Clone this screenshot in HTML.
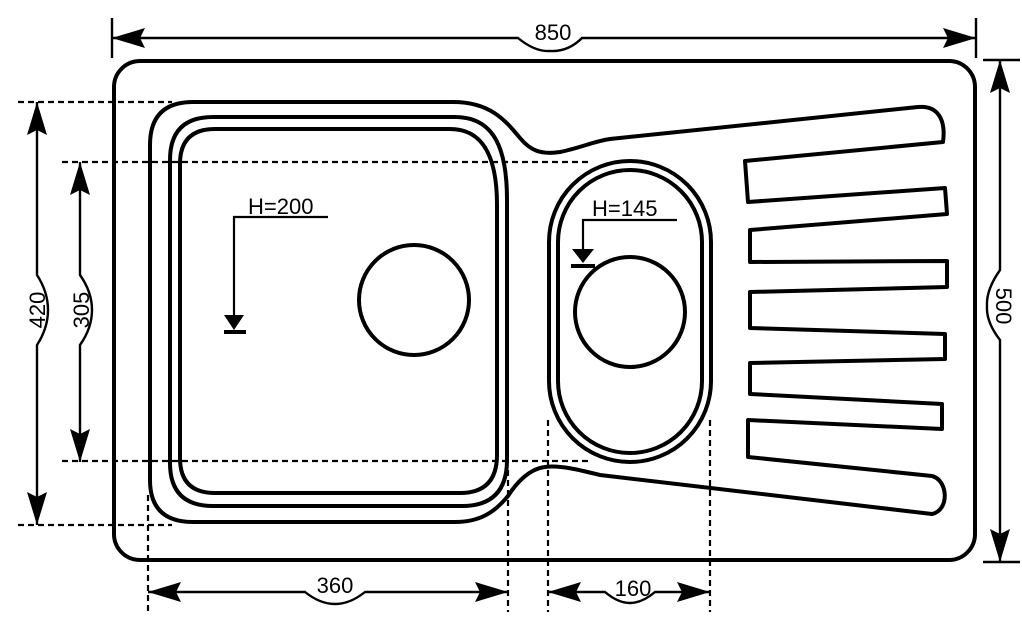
<!DOCTYPE html>
<html><head><meta charset="utf-8"><style>
html,body{margin:0;padding:0;background:#fff;}
svg{display:block;}
text{font-family:"Liberation Sans",Arial,sans-serif;font-size:22px;fill:#000;}
</style></head><body>
<svg width="1022" height="629" viewBox="0 0 1022 629" xmlns="http://www.w3.org/2000/svg">
<g fill="none" stroke="#000" stroke-width="4" stroke-linejoin="round">
<rect x="114" y="61" width="861" height="499" rx="26"/>
<path d="M150,145 Q150,102 193,102 L453,102 C490,102 505,120 520,138 C530,150 540,155 560,152 C580,148 595,141 610,139 L918,107 C938,105 946,120 943,142 L745,161 L748,202 L945,188 L947,214 L750,230 L750,262 L947,261 L947,287 L750,292 L750,328 L945,334 L945,359 L750,363 L750,394 L942,404 L942,429 L748,420 L748,457 L932,476 C948,480 950,510 932,514 L600,475 C580,470 560,465 545,467 C528,469 515,485 508,496 C495,512 480,522 455,522 L193,522 Q150,522 150,480 Z"/>
<path d="M170,160 Q170,117 213,117 L455,117 C495,117 507,150 507,200 L507,460 Q507,506 462,506 L213,506 Q170,506 170,463 Z"/>
<path d="M180,164 Q180,129 215,129 L450,129 C485,129 497,160 497,205 L497,455 Q497,493 460,493 L215,493 Q180,493 180,458 Z"/>
<circle cx="414" cy="300" r="55"/>
<rect x="549" y="161" width="162" height="301" rx="81"/>
<rect x="558" y="170" width="144" height="283" rx="72"/>
<circle cx="630" cy="312" r="55"/>
</g>
<g stroke="#000" stroke-width="2.2" fill="none">
<path d="M328,217 L234,217 L234,318"/>
<path d="M677,220 L583,220 L583,250"/>
</g>
<polygon points="224,315 244,315 234,330" fill="#000"/>
<rect x="224" y="330" width="22" height="4" fill="#000"/>
<polygon points="572,249 594,249 583,263" fill="#000"/>
<rect x="571" y="264" width="24" height="4" fill="#000"/>
<text x="248" y="214">H=200</text>
<text x="592" y="216">H=145</text>
<g stroke="#000" stroke-width="2.2" stroke-dasharray="6,4" fill="none">
<line x1="18" y1="102" x2="172" y2="102"/>
<line x1="62" y1="162" x2="590" y2="162"/>
<line x1="62" y1="461" x2="590" y2="461"/>
<line x1="18" y1="525" x2="172" y2="525"/>
<line x1="148" y1="495" x2="148" y2="612"/>
<line x1="508" y1="470" x2="508" y2="612"/>
<line x1="548" y1="420" x2="548" y2="612"/>
<line x1="710" y1="420" x2="710" y2="612"/>
</g>
<g stroke="#000" stroke-width="2.4" fill="none">
<line x1="112" y1="18" x2="112" y2="58"/>
<line x1="976" y1="18" x2="976" y2="58"/>
<path d="M112,38 L518,38 Q535,52 550,51 Q568,52 582,38 L976,38"/>
<line x1="983" y1="60" x2="1020" y2="60"/>
<line x1="983" y1="562" x2="1020" y2="562"/>
<path d="M1000,60 L1000,270 Q986,290 987,306 Q986,322 1000,340 L1000,562"/>
<path d="M37,102 L37,275 Q48,292 48,310 Q48,328 37,345 L37,525"/>
<path d="M80,162 L80,275 Q92,292 92,310 Q92,328 80,345 L80,462"/>
<path d="M148,592 L305,592 Q320,604 335,604 Q350,604 365,592 L508,592"/>
<path d="M548,592 L605,592 Q618,603 630,603 Q642,603 655,592 L710,592"/>
</g>
<g fill="#000">
<polygon points="112,38 145,28 140,38 145,48"/>
<polygon points="976,38 943,28 948,38 943,48"/>
<polygon points="1000,60 990,93 1000,88 1010,93"/>
<polygon points="1000,562 990,529 1000,534 1010,529"/>
<polygon points="37,102 27,135 37,130 47,135"/>
<polygon points="37,525 27,492 37,497 47,492"/>
<polygon points="80,162 70,195 80,190 90,195"/>
<polygon points="80,462 70,429 80,434 90,429"/>
<polygon points="148,592 181,582 176,592 181,602"/>
<polygon points="508,592 475,582 480,592 475,602"/>
<polygon points="548,592 581,582 576,592 581,602"/>
<polygon points="710,592 677,582 682,592 677,602"/>
</g>
<text x="553" y="40" text-anchor="middle">850</text>
<text x="335" y="593" text-anchor="middle">360</text>
<text x="633" y="596" text-anchor="middle">160</text>
<text transform="translate(45,310) rotate(-90)" text-anchor="middle">420</text>
<text transform="translate(89,310) rotate(-90)" text-anchor="middle">305</text>
<text transform="translate(996,306) rotate(90)" text-anchor="middle">500</text>
</svg>
</body></html>
